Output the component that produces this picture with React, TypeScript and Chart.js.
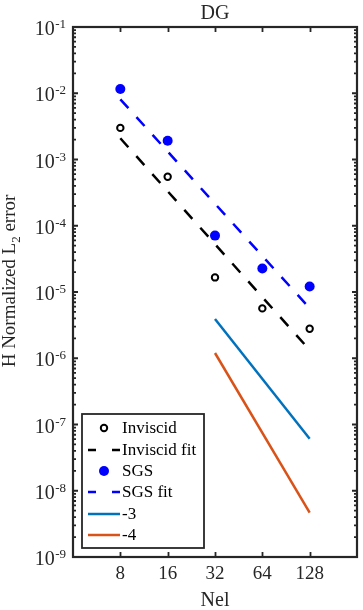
import { useEffect, useRef } from 'react';
import { Chart, registerables } from 'chart.js';

Chart.register(...registerables);

// ---- data ----
const nelTicks = [8, 16, 32, 64, 128];
const pointNel = [8, 16, 32, 64, 128];
const inviscidErr = [3.0e-3, 5.5e-4, 1.66e-5, 5.66e-6, 2.79e-6];
const sgsErr = [1.16e-2, 1.92e-3, 7.1e-5, 2.26e-5, 1.21e-5];
const fitNel = [8, 128];
const inviscidFitErr = [2.09e-3, 1.33e-6];
const sgsFitErr = [8.1e-3, 5.7e-6];
const refNel = [32, 128];
const slope3Err = [3.9e-6, 6.1e-8];
const slope4Err = [1.2e-6, 4.69e-9];
const yExponents = [-9, -8, -7, -6, -5, -4, -3, -2, -1];
const legendLabels = ['Inviscid', 'Inviscid fit', 'SGS', 'SGS fit', '-3', '-4'];

const FONT = '"Liberation Serif", "Times New Roman", serif';
const AXIS = '#262626';

const pts = (xs: number[], ys: number[]) => xs.map((x, i) => ({ x, y: ys[i] }));

const framePlugin = {
  id: 'matlabFrame',
  afterDatasetsDraw(chart: any) {
    const { ctx, chartArea: a, scales } = chart;
    const xs = scales.x;
    const ys = scales.y;
    ctx.save();
    ctx.strokeStyle = AXIS;
    ctx.lineWidth = 1.8;
    // ticks
    ctx.beginPath();
    nelTicks.forEach((v) => {
      const px = Math.round(xs.getPixelForValue(v)) + 0.5;
      ctx.moveTo(px, a.bottom); ctx.lineTo(px, a.bottom - 5);
      ctx.moveTo(px, a.top); ctx.lineTo(px, a.top + 5);
    });
    yExponents.forEach((e) => {
      const py = ys.getPixelForValue(Math.pow(10, e));
      ctx.moveTo(a.left, py); ctx.lineTo(a.left + 5, py);
      ctx.moveTo(a.right, py); ctx.lineTo(a.right - 5, py);
      if (e < -1) {
        for (let m = 2; m <= 9; m++) {
          const pm = ys.getPixelForValue(m * Math.pow(10, e));
          ctx.moveTo(a.left, pm); ctx.lineTo(a.left + 3, pm);
          ctx.moveTo(a.right, pm); ctx.lineTo(a.right - 3, pm);
        }
      }
    });
    ctx.stroke();
    ctx.lineWidth = 2.2;
    ctx.strokeRect(a.left, a.top, a.right - a.left, a.bottom - a.top);

    // tick labels
    ctx.fillStyle = AXIS;
    ctx.textBaseline = 'alphabetic';
    ctx.textAlign = 'center';
    ctx.font = `19px ${FONT}`;
    nelTicks.forEach((v) => {
      ctx.fillText(String(v), xs.getPixelForValue(v), a.bottom + 22);
    });
    yExponents.forEach((e) => {
      const py = ys.getPixelForValue(Math.pow(10, e));
      ctx.font = `13px ${FONT}`;
      ctx.textAlign = 'left';
      const sup = String(e);
      const supW = ctx.measureText(sup).width;
      const right = a.left - 7;
      ctx.fillText(sup, right - supW, py + 1);
      ctx.font = `20px ${FONT}`;
      ctx.textAlign = 'right';
      ctx.fillText('10', right - supW - 0.5, py + 8);
    });

    // axis titles
    ctx.textAlign = 'center';
    ctx.font = `20px ${FONT}`;
    ctx.fillText('Nel', (a.left + a.right) / 2, a.bottom + 49);
    ctx.fillText('DG', (a.left + a.right) / 2, a.top - 8);

    // y title with subscript
    ctx.save();
    ctx.translate(15, 281);
    ctx.rotate(-Math.PI / 2);
    const p1 = 'H Normalized L';
    const p2 = '2';
    const p3 = ' error';
    ctx.font = `19px ${FONT}`;
    const w1 = ctx.measureText(p1).width;
    const w3 = ctx.measureText(p3).width;
    ctx.font = `13px ${FONT}`;
    const w2 = ctx.measureText(p2).width;
    const total = w1 + w2 + w3;
    const x0 = -total / 2;
    ctx.textAlign = 'left';
    ctx.font = `19px ${FONT}`;
    ctx.fillText(p1, x0, 0);
    ctx.font = `13px ${FONT}`;
    ctx.fillText(p2, x0 + w1, 5);
    ctx.font = `19px ${FONT}`;
    ctx.fillText(p3, x0 + w1 + w2, 0);
    ctx.restore();

    // legend
    const lx = 82, ly = 414, lw = 122, lh = 134;
    ctx.fillStyle = '#ffffff';
    ctx.fillRect(lx, ly, lw, lh);
    ctx.lineWidth = 1.8;
    ctx.strokeStyle = AXIS;
    ctx.strokeRect(lx, ly, lw, lh);
    const rowY = [428, 450, 471, 492, 514, 535];
    const sx0 = 88, sx1 = 120, sxm = 104;
    ctx.strokeStyle = '#000000';
    ctx.lineWidth = 2;
    ctx.beginPath(); ctx.arc(sxm, rowY[0], 3.2, 0, Math.PI * 2); ctx.stroke();
    ctx.lineWidth = 2.5;
    ctx.setLineDash([8, 16]);
    ctx.beginPath(); ctx.moveTo(sx0, rowY[1]); ctx.lineTo(sx1, rowY[1]); ctx.stroke();
    ctx.setLineDash([]);
    ctx.fillStyle = '#0000ff';
    ctx.beginPath(); ctx.arc(sxm, rowY[2], 5, 0, Math.PI * 2); ctx.fill();
    ctx.strokeStyle = '#0000ff';
    ctx.setLineDash([8, 16]);
    ctx.beginPath(); ctx.moveTo(sx0, rowY[3]); ctx.lineTo(sx1, rowY[3]); ctx.stroke();
    ctx.setLineDash([]);
    ctx.strokeStyle = '#0072BD';
    ctx.beginPath(); ctx.moveTo(sx0, rowY[4]); ctx.lineTo(sx1, rowY[4]); ctx.stroke();
    ctx.strokeStyle = '#D95319';
    ctx.beginPath(); ctx.moveTo(sx0, rowY[5]); ctx.lineTo(sx1, rowY[5]); ctx.stroke();
    ctx.fillStyle = '#000000';
    ctx.font = `17px ${FONT}`;
    ctx.textAlign = 'left';
    ctx.textBaseline = 'middle';
    legendLabels.forEach((t, i) => ctx.fillText(t, 122, rowY[i] + 1));
    ctx.restore();
  },
};

export default function App() {
  const ref = useRef<HTMLCanvasElement>(null);
  useEffect(() => {
    if (!ref.current) return;
    const chart = new Chart(ref.current, {
      type: 'line',
      data: {
        datasets: [
          {
            label: legendLabels[0],
            data: pts(pointNel, inviscidErr),
            showLine: false,
            pointRadius: 3.2,
            pointBorderWidth: 2,
            pointBorderColor: '#000000',
            pointBackgroundColor: 'rgba(0,0,0,0)',
            borderColor: '#000000',
            order: 6,
          },
          {
            label: legendLabels[1],
            data: pts(fitNel, inviscidFitErr),
            borderColor: '#000000',
            borderWidth: 2.5,
            borderDash: [12, 12],
            pointRadius: 0,
            order: 5,
          },
          {
            label: legendLabels[2],
            data: pts(pointNel, sgsErr),
            showLine: false,
            pointRadius: 5,
            pointBorderWidth: 0,
            pointBackgroundColor: '#0000ff',
            borderColor: '#0000ff',
            order: 4,
          },
          {
            label: legendLabels[3],
            data: pts(fitNel, sgsFitErr),
            borderColor: '#0000ff',
            borderWidth: 2.5,
            borderDash: [12, 12],
            pointRadius: 0,
            order: 3,
          },
          {
            label: legendLabels[4],
            data: pts(refNel, slope3Err),
            borderColor: '#0072BD',
            borderWidth: 2.5,
            pointRadius: 0,
            order: 2,
          },
          {
            label: legendLabels[5],
            data: pts(refNel, slope4Err),
            borderColor: '#D95319',
            borderWidth: 2.5,
            pointRadius: 0,
            order: 1,
          },
        ],
      },
      options: {
        responsive: false,
        animation: false,
        events: [],
        layout: { padding: { left: 73, right: 6, top: 27, bottom: 53 } },
        plugins: { legend: { display: false }, tooltip: { enabled: false }, title: { display: false } },
        scales: {
          x: { type: 'logarithmic', min: 4, max: 256, display: false },
          y: { type: 'logarithmic', min: 1e-9, max: 1e-1, display: false },
        },
      },
      plugins: [framePlugin],
    });
    return () => chart.destroy();
  }, []);
  return (
    <div style={{ position: 'absolute', left: 0, top: 0, width: 363, height: 610, background: '#fff' }}>
      <canvas ref={ref} width={363} height={610} />
    </div>
  );
}
